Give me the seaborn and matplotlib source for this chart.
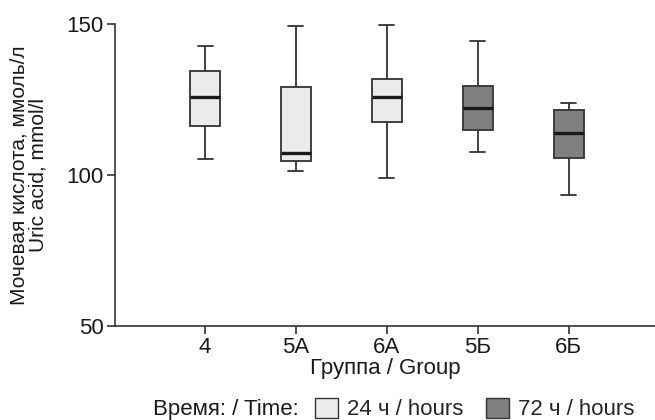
import matplotlib
matplotlib.use("Agg")
import matplotlib.pyplot as plt
import numpy as np
import pandas as pd
import seaborn as sns
from matplotlib.patches import Patch

# box statistics: whisker low, Q1, median, Q3, whisker high
groups = ["4", "5А", "6А", "5Б", "6Б"]
times = ["24 ч / hours", "24 ч / hours", "24 ч / hours", "72 ч / hours", "72 ч / hours"]
w_low = [105.4, 101.2, 99.1, 107.7, 93.5]
q1 = [116.3, 104.7, 117.5, 115.0, 105.7]
med = [125.9, 107.4, 125.9, 122.2, 114.0]
q3 = [134.4, 129.0, 131.9, 129.4, 121.5]
w_high = [142.8, 149.3, 149.7, 144.5, 123.9]

time_levels = ["24 ч / hours", "72 ч / hours"]
colors = {"24 ч / hours": "#ebebed", "72 ч / hours": "#808083"}
EDGE = "#333333"
TXT = "#1a1a1a"
FS = 16

# five points per group so that the quartiles land exactly on the read values
rows = []
for g, t, a, b, c, d, e in zip(groups, times, w_low, q1, med, q3, w_high):
    for v in (a, b, c, d, e):
        rows.append({"group": g, "time": t, "value": v})
df = pd.DataFrame(rows)

sns.set_style("ticks")
plt.rcParams["font.family"] = ["Liberation Sans", "DejaVu Sans"]
plt.rcParams["font.size"] = FS

fig = plt.figure(figsize=(6.55, 4.2), dpi=100)
ax = fig.add_axes([115 / 655, 1 - 326 / 420, 540 / 655, 302 / 420])

sns.boxplot(data=df, x="group", y="value", hue="time", order=groups,
            hue_order=time_levels, palette=colors, dodge=False, width=0.33,
            whis=(0, 100), linecolor=EDGE, linewidth=1.3,
            medianprops={"linewidth": 2.4, "color": TXT},
            legend=False, ax=ax)

ax.set_xlim(-0.99, 4.95)
ax.set_ylim(50, 150)
ax.set_yticks([50, 100, 150])
sns.despine(ax=ax)
for s in ("left", "bottom"):
    ax.spines[s].set_color(EDGE)
    ax.spines[s].set_linewidth(1.2)
ax.tick_params(axis="both", direction="out", length=6, width=1.2, color=EDGE,
               labelsize=FS, labelcolor=TXT, pad=2)

ax.set_xlabel("Группа / Group", fontsize=FS, color=TXT, labelpad=0)
ax.set_ylabel("Мочевая кислота, ммоль/л\nUric acid, mmol/l", fontsize=15,
              color=TXT, labelpad=14, linespacing=0.95)

# legend row at the bottom
fig.text(153 / 655, 1 - 409 / 420, "Время: / Time:", fontsize=FS,
         color=TXT, ha="left", va="center")
handles = [Patch(facecolor=colors[t], edgecolor=EDGE, linewidth=1.0) for t in time_levels]
fig.legend(handles, time_levels, loc="center left",
           bbox_to_anchor=(315 / 655, 1 - 409 / 420), ncol=2, frameon=False,
           fontsize=FS, handlelength=1.05, handleheight=1.05,
           handletextpad=0.4, columnspacing=1.0, borderpad=0, borderaxespad=0)

fig.savefig("out.png", dpi=100)
